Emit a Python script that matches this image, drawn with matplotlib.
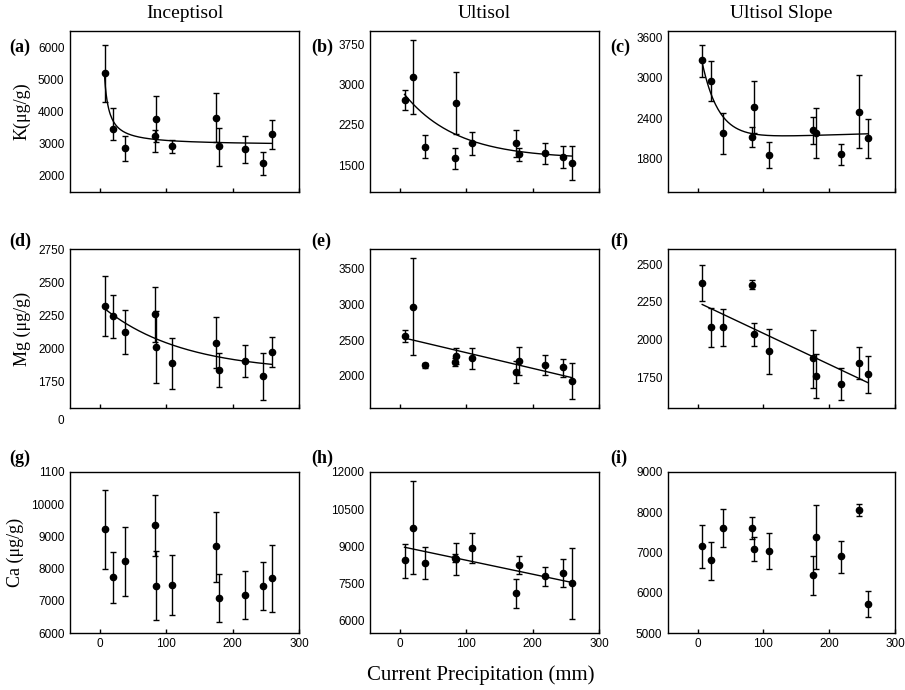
import numpy as np
import matplotlib.pyplot as plt

# current precipitation (mm) of the sites, same for every panel
precip = [7, 20, 38, 83, 85, 109, 175, 180, 218, 246, 259]

# K (ug/g): mean, lower cap, upper cap
k_inc = [5187, 3469, 2854, 3229, 3760, 2927, 3813, 2917, 2844, 2406, 3292]
k_inc_lo = [4292, 3125, 2458, 2750, 3042, 2719, 3052, 2302, 2406, 2031, 2833]
k_inc_hi = [6073, 4094, 3229, 3417, 4479, 3115, 4573, 3500, 3250, 2750, 3729]

k_ult = [2710, 3152, 1847, 1640, 2660, 1917, 1917, 1709, 1734, 1658, 1545]
k_ult_lo = [2534, 2458, 1633, 1425, 2074, 1696, 1658, 1570, 1526, 1444, 1224]
k_ult_hi = [2900, 3832, 2055, 1829, 3227, 2118, 2162, 1829, 1917, 1866, 1866]

k_slp = [3264, 2958, 2176, 2116, 2562, 1855, 2226, 2186, 1865, 2497, 2106]
k_slp_lo = [3018, 2663, 1871, 1966, 2181, 1655, 2011, 1810, 1700, 1951, 1810]
k_slp_hi = [3495, 3249, 2472, 2262, 2948, 2051, 2422, 2552, 2021, 3044, 2392]

# Mg (ug/g)
mg_inc = [2320, 2247, 2127, 2257, 2014, 1886, 2044, 1840, 1906, 1793, 1976]
mg_inc_lo = [2094, 2082, 1958, 2050, 1742, 1692, 1850, 1707, 1783, 1614, 1863]
mg_inc_hi = [2549, 2403, 2293, 2461, 2285, 2082, 2235, 1963, 2026, 1966, 2087]

mg_ult = [2559, 2973, 2149, 2195, 2279, 2251, 2060, 2209, 2158, 2121, 1930]
mg_ult_lo = [2475, 2298, 2111, 2139, 2172, 2102, 1902, 2009, 2018, 1990, 1673]
mg_ult_hi = [2643, 3649, 2186, 2246, 2386, 2391, 2209, 2410, 2293, 2242, 2186]

mg_slp = [2377, 2084, 2084, 2364, 2038, 1926, 1877, 1763, 1711, 1845, 1772]
mg_slp_lo = [2256, 1952, 1961, 2335, 1957, 1774, 1684, 1616, 1605, 1739, 1649]
mg_slp_hi = [2493, 2212, 2201, 2392, 2111, 2071, 2066, 1908, 1816, 1950, 1891]

# Ca (ug/g)
ca_inc = [9223, 7752, 8228, 9347, 7472, 7503, 8695, 7089, 7182, 7472, 7700]
ca_inc_lo = [7990, 6944, 7151, 8405, 6395, 6571, 7597, 6333, 6437, 6706, 6643]
ca_inc_hi = [10445, 8529, 9285, 10290, 8539, 8425, 9772, 7835, 7918, 8208, 8736]

ca_ult = [8430, 9756, 8320, 8525, 8484, 8922, 7104, 8252, 7787, 7910, 7514]
ca_ult_lo = [7719, 7869, 7678, 8361, 7842, 8307, 6516, 7896, 7404, 7350, 6078]
ca_ult_hi = [9099, 11642, 8963, 8689, 9127, 9537, 7664, 8594, 8170, 8484, 8949]

ca_slp = [7156, 6805, 7607, 7616, 7089, 7031, 6438, 7390, 6906, 8067, 5728]
ca_slp_lo = [6613, 6329, 7131, 7332, 6789, 6580, 5953, 6588, 6488, 7916, 5394]
ca_slp_hi = [7691, 7265, 8075, 7883, 7390, 7474, 6914, 8184, 7298, 8200, 6054]

col_titles = ["Inceptisol", "Ultisol", "Ultisol Slope"]
row_ylabels = ["K(\u03bcg/g)", "Mg (\u03bcg/g)", "Ca (\u03bcg/g)"]
panel_tags = ["(a)", "(b)", "(c)", "(d)", "(e)", "(f)", "(g)", "(h)", "(i)"]

# fitted trend lines (parameters)
xx = np.linspace(precip[0], precip[-1], 200)
fits = [
    lambda x: 2952 + 15030 / x,
    lambda x: 1620 + 1310 * np.exp(-0.01263 * x),
    lambda x: 2090 + 1503 * np.exp(-0.04 * x) + 0.3 * x,
    lambda x: 1820 + 509 * np.exp(-0.0083 * x),
    lambda x: 2546 - 2.2 * x,
    lambda x: 2248 - 2.05 * x,
    None,
    lambda x: 9002 - 5.64 * x,
    None,
]

panels = [
    (k_inc, k_inc_lo, k_inc_hi, (1500, 6500), [2000, 3000, 4000, 5000, 6000], None),
    (k_ult, k_ult_lo, k_ult_hi, (1000, 4000), [1500, 2250, 3000, 3750], None),
    (k_slp, k_slp_lo, k_slp_hi, (1300, 3700), [1800, 2400, 3000, 3600], None),
    (mg_inc, mg_inc_lo, mg_inc_hi, (1550, 2750), [1750, 2000, 2250, 2500, 2750], None),
    (mg_ult, mg_ult_lo, mg_ult_hi, (1550, 3780), [2000, 2500, 3000, 3500], None),
    (mg_slp, mg_slp_lo, mg_slp_hi, (1550, 2600), [1750, 2000, 2250, 2500], None),
    (ca_inc, ca_inc_lo, ca_inc_hi, (6000, 11000), [6000, 7000, 8000, 9000, 10000, 11000],
     ["6000", "7000", "8000", "9000", "10000", "1100"]),
    (ca_ult, ca_ult_lo, ca_ult_hi, (5500, 12000), [6000, 7500, 9000, 10500, 12000], None),
    (ca_slp, ca_slp_lo, ca_slp_hi, (5000, 9000), [5000, 6000, 7000, 8000, 9000], None),
]

W, H = 905, 690
col_left = [70, 370, 668]
col_w = [229, 229, 227]
row_top = [31, 249, 472]
row_bot = [192, 408, 633]

serif = "Liberation Serif"
sans = "Liberation Sans"

fig = plt.figure(figsize=(W / 100, H / 100), dpi=100)

for i in range(9):
    r, c = divmod(i, 3)
    mean, lo, hi, ylim, yt, ytl = panels[i]
    ax = fig.add_axes([col_left[c] / W, 1 - row_bot[r] / H,
                       col_w[c] / W, (row_bot[r] - row_top[r]) / H])
    mean = np.array(mean); lo = np.array(lo); hi = np.array(hi)
    ax.errorbar(precip, mean, yerr=[mean - lo, hi - mean], fmt='o', color='black',
                ms=4.5, elinewidth=1, capsize=2.5, capthick=1)
    if fits[i] is not None:
        ax.plot(xx, fits[i](xx), color='black', lw=1)
    ax.set_xlim(-45, 300)
    ax.set_ylim(*ylim)
    ax.set_xticks([0, 100, 200, 300])
    ax.set_yticks(yt)
    if ytl is not None:
        ax.set_yticklabels(ytl)
    ax.tick_params(axis='x', direction='in', length=3, width=1)
    ax.tick_params(axis='y', length=0, pad=4)
    if r < 2:
        ax.set_xticklabels([])
    for lab in ax.get_xticklabels() + ax.get_yticklabels():
        lab.set_fontfamily(sans)
        lab.set_fontsize(8.5)
    for s in ax.spines.values():
        s.set_linewidth(1)
    if c == 0:
        ax.set_ylabel(row_ylabels[r], fontfamily=serif, fontsize=13, labelpad=5)
    tag_x = [9, 311, 610][c]
    tag_y = [47, 241, 458][r]
    fig.text(tag_x / W, 1 - tag_y / H, panel_tags[i], fontfamily=serif,
             fontweight='bold', fontsize=13, va='center', ha='left')

for c in range(3):
    fig.text((col_left[c] + col_w[c] / 2) / W, 1 - 14 / H, col_titles[c],
             fontfamily=serif, fontsize=14, ha='center', va='center')

# stray "0" under the Mg axis of panel (d)
fig.text(61 / W, 1 - 421 / H, "0", fontfamily=sans, fontsize=8.5, ha='center', va='center')

fig.text(481 / W, 1 - 675 / H, "Current Precipitation (mm)", fontfamily=serif,
         fontsize=15, ha='center', va='center')

fig.savefig("out.png", dpi=100)
